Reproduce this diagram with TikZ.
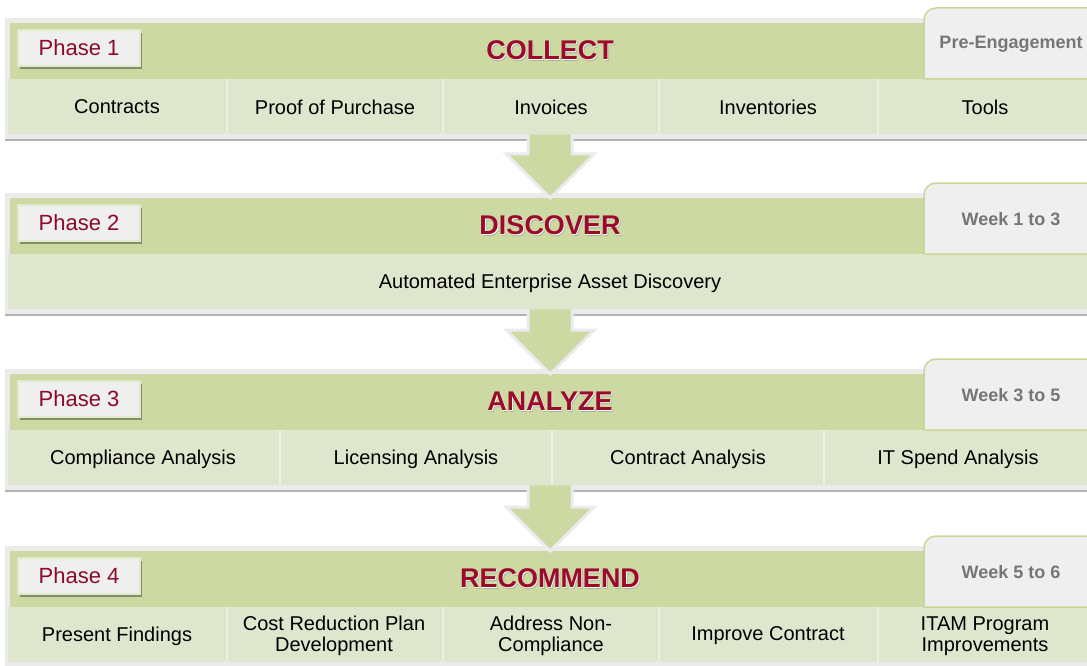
\documentclass[tikz,border=0pt]{standalone}
\usepackage{fontspec}
\setmainfont{Liberation Sans}
\usepackage{tikz}
\usetikzlibrary{shadows,calc}
\definecolor{hdrgreen}{HTML}{CCD9A2}
\definecolor{subgreen}{HTML}{DFE6CE}
\definecolor{framegrey}{HTML}{EBEBEB}
\definecolor{boxgrey}{HTML}{EFEFEF}
\definecolor{phasered}{HTML}{8C0B2B}
\definecolor{titlered}{HTML}{9A0A2A}
\definecolor{tabline}{HTML}{C8D699}
\definecolor{tabtext}{HTML}{767676}
\tikzstyle{panel}=[
  fill=framegrey,drop shadow={shadow xshift=0pt,shadow yshift=-2pt,fill=black,opacity=.3}
]
\tikzstyle{header}=[
  fill=hdrgreen,inner sep=0pt,anchor=north west,minimum width=1082pt,minimum height=56pt
]
\tikzstyle{subrow}=[
  fill=subgreen,inner sep=0pt,anchor=north west,minimum width=1084pt,minimum height=55pt
]
\tikzstyle{divider}=[
  white!45!subgreen,line width=1.5pt
]
\tikzstyle{phasebox}=[
  draw=hdrgreen!55!white,line width=1.5pt,fill=boxgrey,minimum width=122pt,minimum height=36pt,
  inner sep=0pt,text=phasered,font=\fontsize{22}{24}\selectfont,
  drop shadow={shadow xshift=1.5pt,shadow yshift=-3pt,fill=black!50!hdrgreen,opacity=.7}
]
\tikzstyle{title}=[
  text=titlered,font=\fontsize{27}{30}\selectfont\bfseries
]
\tikzstyle{tab}=[
  fill=boxgrey,draw=tabline,line width=1.5pt
]
\tikzstyle{week}=[
  text=tabtext,font=\fontsize{18}{20}\selectfont\bfseries
]
\tikzstyle{item}=[
  font=\fontsize{20}{21}\selectfont,align=center
]
\tikzstyle{flowarrow}=[
  fill=hdrgreen,draw=framegrey,line width=3pt,line join=miter
]

\begin{document}
\begin{tikzpicture}[x=1pt,y=-1pt]
    \useasboundingbox (0,0) rectangle (1087,666);
    \clip (0,0) rectangle (1087,666);
    % the four phase panels
    \foreach \T/\n/\ttl/\wk in {23/1/COLLECT/Pre-Engagement,198/2/DISCOVER/Week 1 to 3,
                                374/3/ANALYZE/Week 3 to 5,551/4/RECOMMEND/Week 5 to 6} {
      \fill [panel] (5,\T-5) rectangle (1092,\T+116);
      \node (hdr\n) at (10,\T) [header] {};
      \node (sub\n) at (8,\T+56) [subrow] {};
      \draw [tab] (924,\T+56) -- (924,\T-3) arc[start angle=180,end angle=90,radius=12pt]
        -- (1100,\T-15) -- (1100,\T+56) -- cycle;
      \node (phase\n) at (79,\T+25) [phasebox] {Phase \n};
      \node (shade\n) at (551.5,\T+29) [title,text=black!45,opacity=.5] {\ttl};
      \node (glow\n) at (550.8,\T+28) [title,text=white] {\ttl};
      \node (title\n) at (550,\T+27) [title] {\ttl};
      \node (week\n) at (1011,\T+21) [week] {\wk};
    }
    % column dividers
    \foreach \x in {227,443,659,878} {
      \draw [divider] (\x,79) -- (\x,134);
      \draw [divider] (\x,607) -- (\x,662);
    }
    \foreach \x in {280,552,824}
      \draw [divider] (\x,430) -- (\x,485);
    % phase 1
    \node (contracts) at (117,107) [item] {Contracts};
    \node (proof) at (335,107) [item] {Proof of Purchase};
    \node (invoices) at (551,107) [item] {Invoices};
    \node (inventories) at (768,107) [item] {Inventories};
    \node (tools) at (985,107) [item] {Tools};
    % phase 2
    \node (discovery) at (550,283) [item] {Automated Enterprise Asset Discovery};
    % phase 3
    \node (compliance) at (143,459) [item] {Compliance Analysis};
    \node (licensing) at (416,459) [item] {Licensing Analysis};
    \node (contract) at (688,459) [item] {Contract Analysis};
    \node (spend) at (958,459) [item] {IT Spend Analysis};
    % phase 4
    \node (findings) at (117,636) [item] {Present Findings};
    \node (costplan) at (334,636) [item] {Cost Reduction Plan\\Development};
    \node (noncompl) at (551,636) [item] {Address Non-\\Compliance};
    \node (improve) at (768,636) [item] {Improve Contract};
    \node (itam) at (985,636) [item] {ITAM Program\\Improvements};
    % arrows between the phases
    \foreach \a/\b in {1/2,2/3,3/4} {
      \coordinate (tip\a) at (sub\a.south |- hdr\b.north);
      \draw [flowarrow] ($(sub\a.south)+(-22,0)$) -- ($(tip\a)+(-22,-44)$) -- ++(-22,0)
        -- (tip\a) -- ++(44,-44) -- ++(-22,0) -- ($(sub\a.south)+(22,0)$);
    }
\end{tikzpicture}
\end{document}
